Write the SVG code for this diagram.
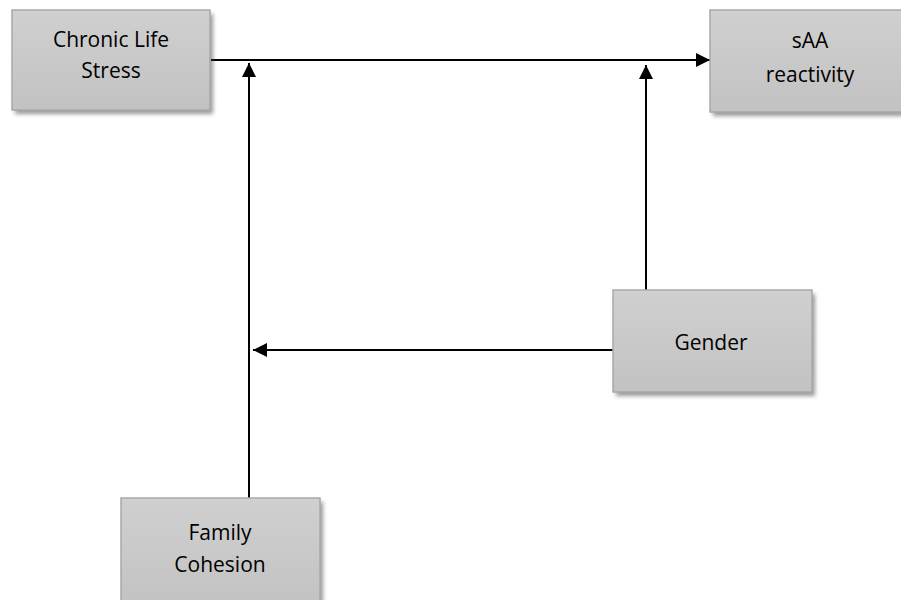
<svg xmlns="http://www.w3.org/2000/svg" width="901" height="600" viewBox="0 0 901 600">
<style>
.box{fill:url(#g);stroke:#a9a9a9;stroke-width:1.5}
.sh{fill:#444;opacity:0.55;filter:url(#blur)}
.t{font-family:"Open Sans","Liberation Sans",sans-serif;font-size:21px;fill:#000;text-anchor:middle}
.c{stroke:#000;stroke-width:2;fill:none}
</style>
<defs>
<linearGradient id="g" x1="0" y1="0" x2="0" y2="1">
<stop offset="0" stop-color="#d0d0d0"/>
<stop offset="1" stop-color="#c2c2c2"/>
</linearGradient>
<filter id="blur" x="-10%" y="-10%" width="120%" height="130%"><feGaussianBlur stdDeviation="2"/></filter>
<marker id="a" viewBox="0 0 10 10" refX="10" refY="5" markerWidth="7" markerHeight="7" orient="auto" markerUnits="strokeWidth">
<path d="M0,0 L10,5 L0,10 z" fill="#000"/>
</marker>
</defs>
<g id="connectors">
<line class="c" x1="211" y1="60" x2="710" y2="60" marker-end="url(#a)"/>
<line class="c" x1="249" y1="498" x2="249" y2="63" marker-end="url(#a)"/>
<line class="c" x1="646" y1="290" x2="646" y2="65" marker-end="url(#a)"/>
<line class="c" x1="613" y1="350" x2="253" y2="350" marker-end="url(#a)"/>
</g>
<g id="chronic">
<rect class="sh" x="15" y="14" width="198" height="100"/>
<rect class="box" x="12" y="10" width="198" height="100"/>
<text class="t" x="111" y="47">Chronic Life</text>
<text class="t" x="111" y="78">Stress</text>
</g>
<g id="saa">
<rect class="sh" x="713" y="14" width="198" height="102"/>
<rect class="box" x="710" y="10" width="198" height="102"/>
<text class="t" x="810" y="48">sAA</text>
<text class="t" x="810" y="82">reactivity</text>
</g>
<g id="gender">
<rect class="sh" x="616" y="294" width="199" height="102"/>
<rect class="box" x="613" y="290" width="199" height="102"/>
<text class="t" x="711" y="350">Gender</text>
</g>
<g id="family">
<rect class="sh" x="124" y="502" width="199" height="110"/>
<rect class="box" x="121" y="498" width="199" height="110"/>
<text class="t" x="220" y="540">Family</text>
<text class="t" x="220" y="572">Cohesion</text>
</g>
</svg>
